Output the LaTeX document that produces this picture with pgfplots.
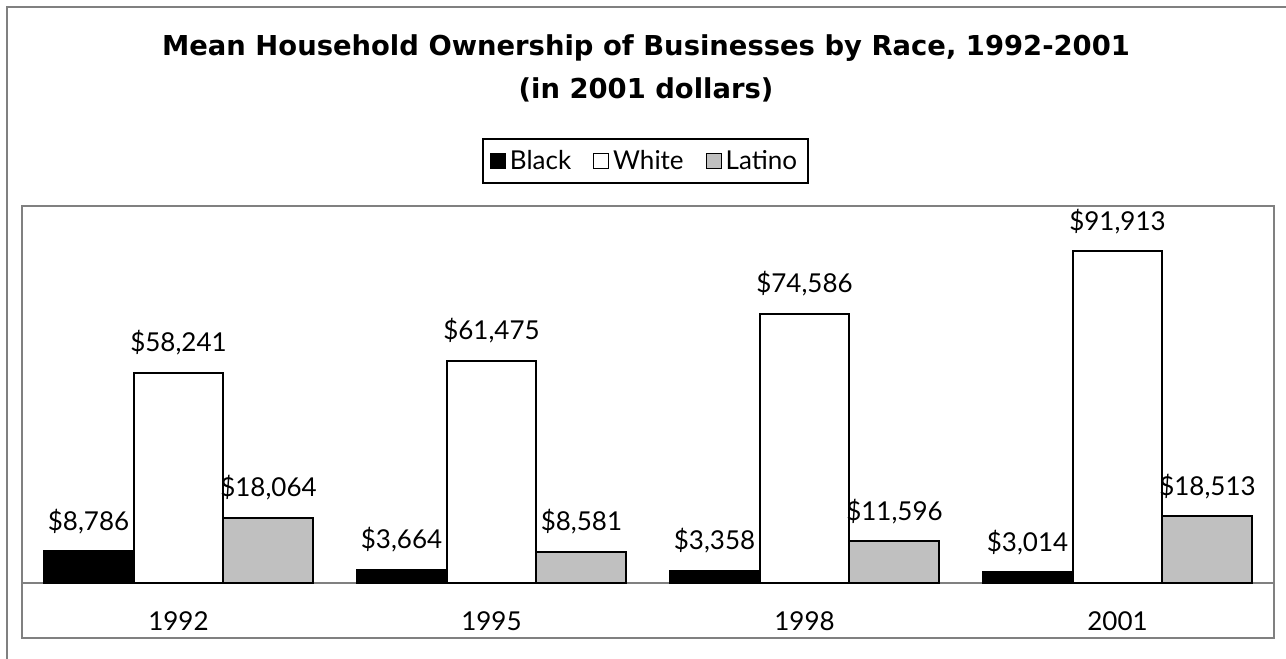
\documentclass[border=0pt]{standalone}
\usepackage{fontspec}
\setmainfont{Lato}
\newfontfamily\titlefont{DejaVu Sans}
\usepackage{pgfplots}
\pgfplotsset{compat=1.18}
\definecolor{latgray}{RGB}{192,192,192}
\definecolor{framegray}{RGB}{128,128,128}
\begin{document}
\begin{tikzpicture}[x=0.5pt,y=-0.5pt]
\path[use as bounding box] (0,0) rectangle (1286,659);
\draw[framegray, line width=1pt] (7,665) -- (7,7) -- (1292,7);
\node[anchor=base, inner sep=0pt, font=\titlefont\bfseries\fontsize{13.7}{16}\selectfont] at (646,55) {Mean Household Ownership of Businesses by Race, 1992-2001};
\node[anchor=base, inner sep=0pt, font=\titlefont\bfseries\fontsize{13.7}{16}\selectfont] at (646,98) {(in 2001 dollars)};
\begin{axis}[
  at={(11pt,-319pt)}, anchor=south west,
  width=626pt, height=216pt, scale only axis,
  xmin=-0.5, xmax=3.5, ymin=-15200, ymax=104400,
  ybar=0pt, bar width=0.2875,
  axis line style={framegray, line width=1pt},
  xtick={0,1,2,3}, xticklabels={1992,1995,1998,2001},
  xtick style={draw=none},
  xticklabel style={anchor=center, yshift=12.5pt, font=\fontsize{13}{15}\selectfont},
  ytick=\empty,
  extra y ticks={0}, extra y tick labels={},
  extra y tick style={grid=major, major grid style={framegray, line width=1pt}, tick style={draw=none}},
  /pgf/number format/.cd, 1000 sep={,}, fixed, precision=0, assume math mode=true,
  /pgfplots/.cd,
  nodes near coords={\$\pgfmathprintnumber{\pgfplotspointmeta}},
  every node near coord/.append style={anchor=center, yshift=15pt, font=\fontsize{13}{15}\selectfont, text=black},
  legend columns=3,
  legend style={at={(0.498,1.104)}, anchor=center, draw=black, line width=1pt,
    font=\fontsize{13}{15}\selectfont, inner ysep=3.5pt, inner xsep=3.5pt,
    /tikz/every even column/.append style={column sep=9pt}},
  legend image code/.code={\draw[#1, line width=0.5pt] (0pt,-3.75pt) rectangle (7.5pt,3.75pt);},
]
\addplot[fill=black, draw=black, line width=1pt] coordinates {(0,8786) (1,3664) (2,3358) (3,3014)};
\addplot[fill=white, draw=black, line width=1pt] coordinates {(0,58241) (1,61475) (2,74586) (3,91913)};
\addplot[fill=latgray, draw=black, line width=1pt] coordinates {(0,18064) (1,8581) (2,11596) (3,18513)};
\legend{Black, White, Latino}
\end{axis}
\end{tikzpicture}
\end{document}
